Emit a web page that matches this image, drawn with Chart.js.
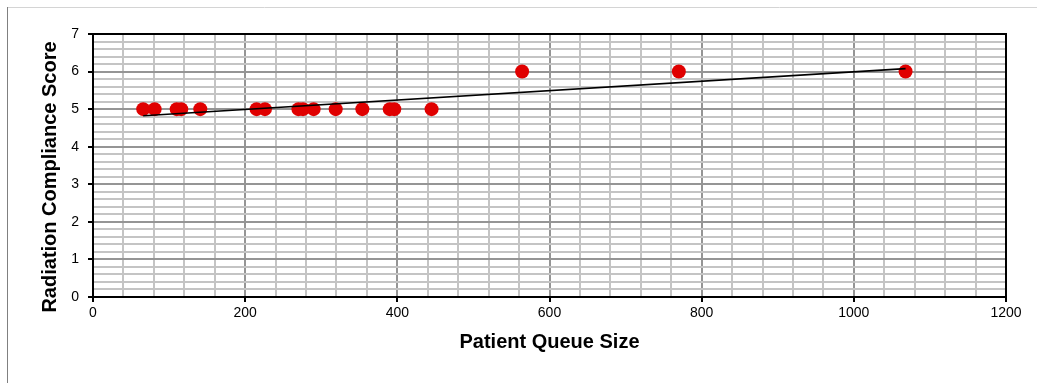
<!DOCTYPE html>
<html>
<head>
<meta charset="utf-8">
<script src="https://cdn.jsdelivr.net/npm/chart.js@4/dist/chart.umd.min.js"></script>
<style>
  html, body { margin: 0; padding: 0; background: #fff; }
  canvas { display: block; }
</style>
</head>
<body>
<canvas id="c" width="1037" height="383"></canvas>
<script>
// Data
const queueSize = [66, 81, 110, 116, 141, 215, 226, 270, 276, 290, 319, 354, 390, 396, 445, 564, 770, 1068];
const complianceScore = [5, 5, 5, 5, 5, 5, 5, 5, 5, 5, 5, 5, 5, 5, 5, 6, 6, 6];
const xTickLabels = [0, 200, 400, 600, 800, 1000, 1200];
const yTickLabels = [0, 1, 2, 3, 4, 5, 6, 7];
const xTitle = 'Patient Queue Size';
const yTitle = 'Radiation Compliance Score';

const points = queueSize.map((x, i) => ({ x: x, y: complianceScore[i] }));

// Linear trendline (least squares) from the data
const n = queueSize.length;
const mx = queueSize.reduce((a, b) => a + b, 0) / n;
const my = complianceScore.reduce((a, b) => a + b, 0) / n;
let sxy = 0, sxx = 0;
for (let i = 0; i < n; i++) { sxy += (queueSize[i] - mx) * (complianceScore[i] - my); sxx += (queueSize[i] - mx) ** 2; }
const slope = sxy / sxx, intercept = my - slope * mx;
const xMin = Math.min(...queueSize), xMax = Math.max(...queueSize);
const trend = [{ x: xMin, y: intercept + slope * xMin }, { x: xMax, y: intercept + slope * xMax }];

const FONT = "'Liberation Sans', Arial, sans-serif";
const isMajor = (v, step) => Math.abs(v / step - Math.round(v / step)) < 1e-6;

const framePlugin = {
  id: 'frame',
  beforeDraw(chart) {
    const ctx = chart.ctx;
    ctx.save();
    ctx.strokeStyle = '#d4d4d4';
    ctx.lineWidth = 1;
    ctx.beginPath(); ctx.moveTo(7, 7.5); ctx.lineTo(1037, 7.5); ctx.stroke();
    ctx.strokeStyle = '#808080';
    ctx.beginPath(); ctx.moveTo(7.5, 7); ctx.lineTo(7.5, 383); ctx.stroke();
    ctx.restore();
  },
  afterDatasetsDraw(chart) {
    const a = chart.chartArea, ctx = chart.ctx;
    ctx.save();
    ctx.strokeStyle = '#000';
    ctx.lineWidth = 2;
    ctx.strokeRect(a.left, a.top, a.right - a.left, a.bottom - a.top);
    ctx.restore();
  },
  afterDraw(chart) {
    // y-axis title, placed as in the reference (slightly below the plot's centre)
    const ctx = chart.ctx;
    ctx.save();
    ctx.translate(50, 177);
    ctx.rotate(-Math.PI / 2);
    ctx.font = "bold 20px " + FONT;
    ctx.fillStyle = '#000';
    ctx.textAlign = 'center';
    ctx.textBaseline = 'middle';
    ctx.fillText(yTitle, 0, 0);
    ctx.restore();
  }
};

new Chart(document.getElementById('c'), {
  type: 'scatter',
  data: {
    datasets: [
      {
        label: 'Trend',
        data: trend,
        showLine: true,
        borderColor: '#000',
        borderWidth: 1.6,
        pointRadius: 0,
        order: 0
      },
      {
        label: 'Score',
        data: points,
        backgroundColor: '#e00000',
        borderWidth: 0,
        pointRadius: 7,
        order: 1
      }
    ]
  },
  options: {
    responsive: false,
    animation: false,
    events: [],
    layout: { padding: { left: 0, right: 31, top: 34, bottom: 0 } },
    plugins: { legend: { display: false }, tooltip: { enabled: false } },
    scales: {
      x: {
        type: 'linear',
        min: 0, max: 1200,
        afterFit: s => { s.height = 86; },
        ticks: {
          stepSize: 40,
          autoSkip: false,
          maxRotation: 0,
          padding: 3,
          color: '#000',
          font: { family: FONT, size: 14 },
          callback: v => (isMajor(v, 200) && xTickLabels.includes(Math.round(v))) ? String(Math.round(v)) : ''
        },
        grid: {
          color: c => isMajor(c.tick.value, 200) ? '#959595' : '#c4c4c4',
          lineWidth: 2,
          tickColor: c => isMajor(c.tick.value, 200) ? '#000' : 'rgba(0,0,0,0)',
          tickLength: 5
        },
        border: { color: '#000', width: 2 },
        title: {
          display: true,
          text: xTitle,
          color: '#000',
          font: { family: FONT, size: 20, weight: 'bold' },
          padding: { top: 0, bottom: 29 }
        }
      },
      y: {
        type: 'linear',
        min: 0, max: 7,
        afterFit: s => { s.width = 93; },
        ticks: {
          stepSize: 0.2,
          autoSkip: false,
          padding: 9,
          color: '#000',
          font: { family: FONT, size: 14 },
          callback: v => (isMajor(v, 1) && yTickLabels.includes(Math.round(v))) ? String(Math.round(v)) : ''
        },
        grid: {
          color: c => isMajor(c.tick.value, 1) ? '#959595' : '#c4c4c4',
          lineWidth: 2,
          tickColor: c => isMajor(c.tick.value, 1) ? '#000' : 'rgba(0,0,0,0)',
          tickLength: 5
        },
        border: { color: '#000', width: 2 },
        title: { display: false }
      }
    }
  },
  plugins: [framePlugin]
});
</script>
</body>
</html>
